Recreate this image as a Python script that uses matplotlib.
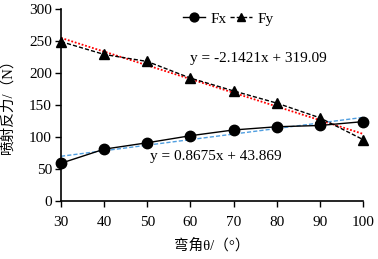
import numpy as np
import matplotlib
matplotlib.use("Agg")
import matplotlib.pyplot as plt

# bend angle vs jet reaction force
angle = [30, 40, 50, 60, 70, 80, 90, 100]
fx = [59, 81, 91, 102, 111, 116, 118, 124]
fy = [249, 229, 218, 192, 172, 153, 130, 96]

# linear fits shown on the chart (slope, intercept)
fx_fit = [0.8675, 43.869]
fy_fit = [-2.1421, 319.09]

plt.rcParams['font.family'] = ['Liberation Serif', 'Noto Sans CJK SC']
plt.rcParams['font.size'] = 11

fig = plt.figure(figsize=(3.78, 2.59), dpi=100)
ax = fig.add_axes([61/378, 1 - 201/259, (363-61)/378, (201-9)/259])

xs = np.array([angle[0], angle[-1]])
ax.plot(xs, fy_fit[0]*xs + fy_fit[1], color='red', ls=(0, (1, 1)), lw=1.3)
ax.plot(xs, fx_fit[0]*xs + fx_fit[1], color='#4f9ee0', ls=(0, (3, 1.5)), lw=1.0)

ax.plot(angle, fx, color='black', lw=1.0, marker='o', ms=7.5, label='Fx', clip_on=False)
ax.plot(angle, fy, color='black', lw=1.0, ls=(0, (3, 1.5)), marker='^', ms=7.5,
        label='Fy', clip_on=False)

ax.text(59.9, 222, 'y = -2.1421x + 319.09', va='center')
ax.text(50.6, 69, 'y = 0.8675x + 43.869', va='center')

ax.set_xlim(30, 100)
ax.set_ylim(0, 300)
ax.set_xticks(angle)
ax.set_yticks(range(0, 301, 50))
ax.spines['top'].set_visible(False)
ax.spines['right'].set_visible(False)
ax.tick_params(direction='out', length=4.5, width=1)
ax.tick_params(axis='x', pad=6)
ax.tick_params(axis='y', pad=2)
for s in ['left', 'bottom']:
    ax.spines[s].set_linewidth(1.2)

ax.set_xlabel('弯角θ/（°）', fontsize=10.5, labelpad=7)
ax.set_ylabel('喷射反力/（N）', fontsize=10.5)
ax.yaxis.set_label_coords(-0.155, 0.51)

leg = ax.legend(loc='center left', bbox_to_anchor=(0.404, 0.948), ncol=2, frameon=False,
                handlelength=1.45, columnspacing=0.2, handletextpad=0.35,
                borderpad=0, borderaxespad=0, markerscale=0.85)

fig.savefig('out.png', dpi=100)
